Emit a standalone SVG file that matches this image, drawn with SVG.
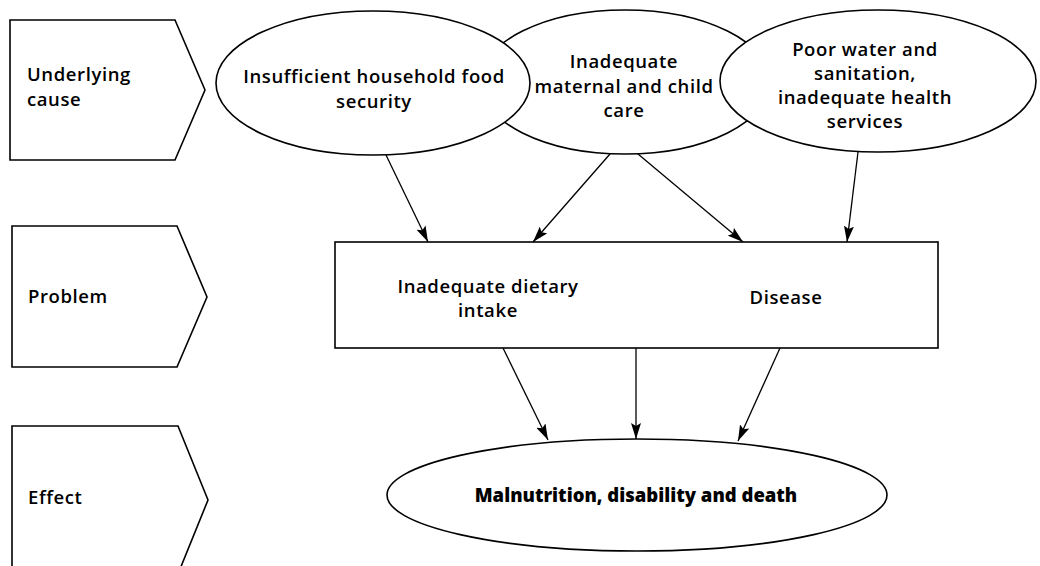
<svg xmlns="http://www.w3.org/2000/svg" width="1040" height="566" viewBox="0 0 1040 566">
<style>
.shape{fill:#fff;stroke:#000;stroke-width:1.6}
.lbl{font-family:"Open Sans","Noto Sans",sans-serif;font-size:18.5px;font-weight:600;letter-spacing:0.6px;fill:#000}
.ctr{text-anchor:middle}
.bold{font-weight:800;letter-spacing:0}
.conn{stroke:#000;stroke-width:1.3;fill:none;marker-end:url(#ah)}
</style>
<defs>
<marker id="ah" markerUnits="userSpaceOnUse" markerWidth="17" markerHeight="10" refX="16" refY="5" orient="auto" viewBox="0 0 17 10">
<path d="M0,0 L16,5 L0,10 L3,5 Z" fill="#000"/>
</marker>
</defs>
<rect width="1040" height="566" fill="#fff"/>

<g id="label-underlying">
<polygon class="shape" points="10,20 175,20 205,90 175,160 10,160"/>
<text class="lbl" x="27" y="81">Underlying</text>
<text class="lbl" x="27" y="106">cause</text>
</g>
<g id="label-problem">
<polygon class="shape" points="12,226 177,226 207,297 177,367 12,367"/>
<text class="lbl" x="28" y="303">Problem</text>
</g>
<g id="label-effect">
<polygon class="shape" points="12,426 178,426 208,500 178,574 12,574"/>
<text class="lbl" x="28" y="504">Effect</text>
</g>

<g id="cause-care">
<ellipse class="shape" cx="625" cy="82" rx="145" ry="72"/>
<text class="lbl ctr" x="624" y="68">Inadequate</text>
<text class="lbl ctr" x="624" y="93">maternal and child</text>
<text class="lbl ctr" x="624" y="117">care</text>
</g>
<g id="cause-food">
<ellipse class="shape" cx="373" cy="83" rx="157" ry="72"/>
<text class="lbl ctr" x="374" y="83">Insufficient household food</text>
<text class="lbl ctr" x="374" y="108">security</text>
</g>
<g id="cause-water">
<ellipse class="shape" cx="878" cy="81" rx="158" ry="71"/>
<text class="lbl ctr" x="865" y="56">Poor water and</text>
<text class="lbl ctr" x="865" y="80">sanitation,</text>
<text class="lbl ctr" x="865" y="104">inadequate health</text>
<text class="lbl ctr" x="865" y="128">services</text>
</g>

<g id="problem">
<rect class="shape" x="335" y="242" width="603" height="106"/>
<text class="lbl ctr" x="488" y="293">Inadequate dietary</text>
<text class="lbl ctr" x="488" y="317">intake</text>
<text class="lbl ctr" x="786" y="304">Disease</text>
</g>

<g id="effect">
<ellipse class="shape" cx="637" cy="495" rx="250" ry="56"/>
<text class="lbl ctr bold" x="636" y="502">Malnutrition, disability and death</text>
</g>

<g id="connectors">
<line class="conn" x1="386" y1="155" x2="428" y2="242"/>
<line class="conn" x1="610" y1="154" x2="533" y2="242"/>
<line class="conn" x1="638" y1="154" x2="743" y2="242"/>
<line class="conn" x1="858" y1="152" x2="847" y2="242"/>
<line class="conn" x1="503" y1="348" x2="548" y2="440"/>
<line class="conn" x1="636" y1="348" x2="636" y2="439"/>
<line class="conn" x1="780" y1="348" x2="738" y2="441"/>
</g>
</svg>
